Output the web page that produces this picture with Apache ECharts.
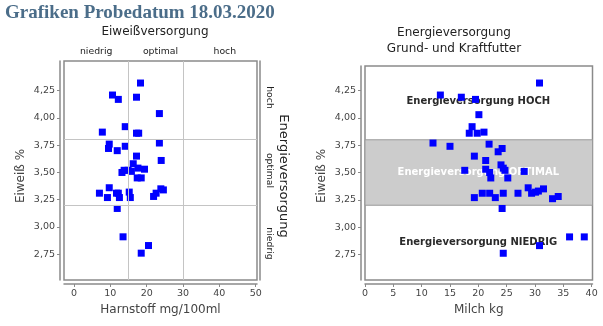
<!DOCTYPE html>
<html><head><meta charset="utf-8">
<script src="https://cdn.jsdelivr.net/npm/echarts@6/dist/echarts.min.js"></script>
<style>html,body{margin:0;padding:0;background:#fff}#c{width:603px;height:326px}</style>
</head><body><div id="c"></div>
<script>
// ---- data ----
const harnstoff = [18.3, 10.6, 12.2, 17.2, 23.5, 14.1, 7.8, 17.2, 17.8, 9.7, 9.5, 23.5, 14.1, 11.9, 17.2, 24.0, 16.3, 17.6, 19.4, 13.8, 14.9, 15.8, 13.2, 17.4, 18.5, 9.7, 23.9, 24.6, 7.0, 11.7, 12.2, 15.2, 22.6, 9.2, 12.5, 15.5, 21.9, 11.9, 13.5, 20.5, 18.5];
const eiweissLinks = [4.32, 4.21, 4.17, 4.19, 4.04, 3.92, 3.87, 3.86, 3.86, 3.76, 3.72, 3.77, 3.74, 3.70, 3.65, 3.61, 3.58, 3.54, 3.53, 3.52, 3.52, 3.51, 3.50, 3.45, 3.45, 3.36, 3.35, 3.34, 3.31, 3.31, 3.31, 3.32, 3.31, 3.27, 3.27, 3.27, 3.28, 3.17, 2.91, 2.83, 2.76];
const milch = [30.8, 13.3, 17.0, 19.5, 20.1, 18.9, 18.4, 19.8, 21.0, 12.0, 15.0, 21.9, 24.2, 23.5, 19.3, 21.3, 24.0, 24.4, 21.3, 24.7, 17.6, 22.0, 28.1, 22.2, 25.2, 28.8, 31.5, 30.6, 30.1, 29.4, 27.0, 24.4, 22.0, 20.7, 19.3, 23.0, 33.1, 34.1, 24.2, 36.1, 38.7, 30.8, 24.4];
const eiweissRechts = [4.32, 4.21, 4.19, 4.17, 4.03, 3.92, 3.86, 3.86, 3.87, 3.77, 3.74, 3.76, 3.72, 3.69, 3.65, 3.61, 3.57, 3.54, 3.53, 3.52, 3.52, 3.50, 3.51, 3.45, 3.45, 3.36, 3.35, 3.33, 3.32, 3.31, 3.31, 3.31, 3.31, 3.31, 3.27, 3.27, 3.26, 3.28, 3.17, 2.91, 2.91, 2.83, 2.76];
const versorgungKategorien = ['niedrig', 'optimal', 'hoch'];
const eiweissTicks = [2.75, 3.00, 3.25, 3.50, 3.75, 4.00, 4.25];
const harnstoffTicks = [0, 10, 20, 30, 40, 50];
const milchTicks = [0, 5, 10, 15, 20, 25, 30, 35, 40];
const harnstoffGrenzen = [15, 30];
const eiweissGrenzen = [3.2, 3.8];
const hinweisTexte = ['Energieversorgung HOCH', 'Energieversorgung OPTIMAL', 'Energieversorgung NIEDRIG'];
const hinweisX = [20, 20, 20];
const hinweisY = [4.15, 3.50, 2.86];

// ---- styles ----
const FONT = 'DejaVu Sans';
const axisGray = '#8a8a8a';
const labelColor = '#444';
const komma = v => Number(v).toFixed(2).replace('.', ',');

function valAxis(o) {
  return Object.assign({
    type: 'value', offset: 4,
    axisLine: { show: true, onZero: false, lineStyle: { color: axisGray, width: 1.5 } },
    axisTick: { show: true, length: 3, lineStyle: { color: axisGray, width: 1 } },
    axisLabel: { margin: 5, color: labelColor, fontSize: 9.5, fontFamily: FONT },
    splitLine: { show: false },
    nameTextStyle: { color: labelColor, fontSize: 12, fontFamily: FONT }
  }, o);
}

const chart = echarts.init(document.getElementById('c'), null, { renderer: 'canvas' });
chart.setOption({
  animation: false,
  backgroundColor: '#fff',
  grid: [
    { left: 64, top: 61, width: 193, height: 219, show: true, borderColor: axisGray, borderWidth: 1.5, backgroundColor: 'transparent', containLabel: false, outerBoundsMode: 'none' },
    { left: 365, top: 66, width: 227.5, height: 214, show: true, borderColor: axisGray, borderWidth: 1.5, backgroundColor: 'transparent', containLabel: false, outerBoundsMode: 'none' }
  ],
  xAxis: [
    valAxis({ gridIndex: 0, position: 'bottom', min: -2.75, max: 50.36,
      axisTick: { show: true, length: 3, lineStyle: { color: axisGray }, customValues: harnstoffTicks },
      axisLabel: { margin: 5, color: labelColor, fontSize: 9.5, fontFamily: FONT, customValues: harnstoffTicks },
      name: 'Harnstoff mg/100ml', nameLocation: 'middle', nameGap: 18 }),
    { gridIndex: 0, type: 'category', position: 'top', data: versorgungKategorien,
      axisLine: { show: false, onZero: false }, axisTick: { show: false }, splitLine: { show: false },
      axisLabel: { margin: 5, color: '#222', fontSize: 9.3, fontFamily: FONT } },
    valAxis({ gridIndex: 1, position: 'bottom', min: 0, max: 40.15,
      axisTick: { show: true, length: 3, lineStyle: { color: axisGray }, customValues: milchTicks },
      axisLabel: { margin: 5, color: labelColor, fontSize: 9.5, fontFamily: FONT, customValues: milchTicks },
      name: 'Milch kg', nameLocation: 'middle', nameGap: 18 })
  ],
  yAxis: [
    valAxis({ gridIndex: 0, position: 'left', min: 2.514, max: 4.522,
      axisTick: { show: true, length: 3, lineStyle: { color: axisGray }, customValues: eiweissTicks },
      axisLabel: { margin: 5, color: labelColor, fontSize: 9.5, fontFamily: FONT, customValues: eiweissTicks, formatter: komma } }),
    { gridIndex: 0, type: 'category', position: 'right', offset: 3, data: versorgungKategorien,
      axisLine: { show: true, onZero: false, lineStyle: { color: axisGray, width: 1.5 } }, axisTick: { show: false }, splitLine: { show: false },
      axisLabel: { margin: 5, rotate: -90, color: '#222', fontSize: 9.3, fontFamily: FONT } },
    valAxis({ gridIndex: 1, position: 'left', min: 2.515, max: 4.476,
      axisTick: { show: true, length: 3, lineStyle: { color: axisGray }, customValues: eiweissTicks },
      axisLabel: { margin: 5, color: labelColor, fontSize: 9.5, fontFamily: FONT, customValues: eiweissTicks, formatter: komma } })
  ],
  graphic: [
    { type: 'text', left: 5, top: 4, style: { text: 'Grafiken Probedatum 18.03.2020', font: 'bold 19px "Liberation Serif"', fill: '#4b6d89' } },
    { type: 'text', x: 155, y: 32, style: { text: 'Eiweißversorgung', font: '12px "DejaVu Sans"', fill: '#222', textAlign: 'center', textVerticalAlign: 'middle' } },
    { type: 'text', x: 454, y: 33, style: { text: 'Energieversorgung', font: '12px "DejaVu Sans"', fill: '#222', textAlign: 'center', textVerticalAlign: 'middle' } },
    { type: 'text', x: 454, y: 49, style: { text: 'Grund- und Kraftfutter', font: '12px "DejaVu Sans"', fill: '#222', textAlign: 'center', textVerticalAlign: 'middle' } },
    { type: 'text', x: 21, y: 176, rotation: Math.PI / 2, style: { text: 'Eiweiß %', font: '12px "DejaVu Sans"', fill: labelColor, textAlign: 'center', textVerticalAlign: 'middle' } },
    { type: 'text', x: 322, y: 176, rotation: Math.PI / 2, style: { text: 'Eiweiß %', font: '12px "DejaVu Sans"', fill: labelColor, textAlign: 'center', textVerticalAlign: 'middle' } },
    { type: 'text', x: 283, y: 176, rotation: -Math.PI / 2, style: { text: 'Energieversorgung', font: '13px "DejaVu Sans"', fill: '#222', textAlign: 'center', textVerticalAlign: 'middle' } }
  ],
  series: [
    { type: 'scatter', xAxisIndex: 0, yAxisIndex: 0, data: [], z: 1, silent: true,
      markLine: { silent: true, symbol: 'none', label: { show: false }, animation: false,
        lineStyle: { color: '#c4c4c4', width: 1, type: 'solid' },
        data: harnstoffGrenzen.map(v => ({ xAxis: v })).concat(eiweissGrenzen.map(v => ({ yAxis: v }))) } },
    { type: 'scatter', xAxisIndex: 0, yAxisIndex: 0, z: 3, symbol: 'rect', symbolSize: 7,
      itemStyle: { color: '#0000ff', opacity: 1 },
      data: harnstoff.map((x, i) => [x, eiweissLinks[i]]) },
    { type: 'scatter', xAxisIndex: 2, yAxisIndex: 2, data: [], z: 1, silent: true,
      markArea: { silent: true, animation: false,
        itemStyle: { color: '#cccccc', borderColor: '#9a9a9a', borderWidth: 1 },
        data: [[{ yAxis: eiweissGrenzen[0] }, { yAxis: eiweissGrenzen[1] }]] } },
    { type: 'scatter', xAxisIndex: 2, yAxisIndex: 2, z: 2, symbolSize: 1, silent: true,
      itemStyle: { color: 'rgba(0,0,0,0)' },
      label: { show: true, position: 'inside', formatter: '{b}', fontFamily: FONT, fontWeight: 'bold', fontSize: 10, color: '#2a2a2a', textBorderWidth: 0, opacity: 1 },
      emphasis: { disabled: true },
      data: hinweisTexte.map((t, i) => ({ name: t, value: [hinweisX[i], hinweisY[i]],
        label: i === 1 ? { color: '#ffffff' } : {} })) },
    { type: 'scatter', xAxisIndex: 2, yAxisIndex: 2, z: 3, symbol: 'rect', symbolSize: 7,
      itemStyle: { color: '#0000ff', opacity: 1 },
      data: milch.map((x, i) => [x, eiweissRechts[i]]) }
  ]
});
</script>
</body></html>
